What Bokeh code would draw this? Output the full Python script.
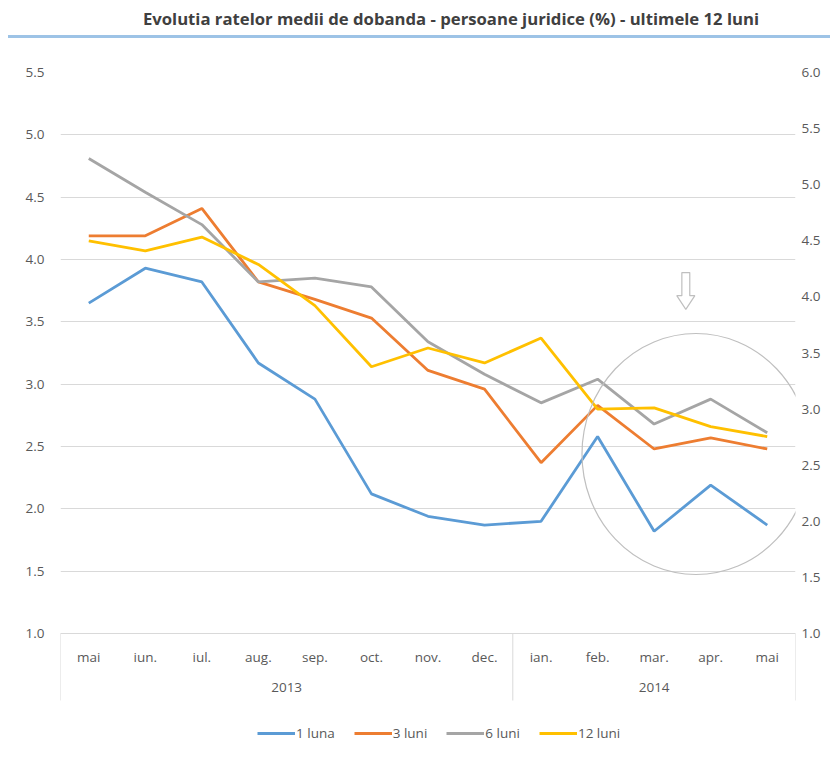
from bokeh.plotting import figure
from bokeh.models import (FactorRange, Range1d, LinearAxis, Legend, LegendItem, Div,
                          FixedTicker, NumeralTickFormatter)
from bokeh.layouts import column
from bokeh.embed import file_html
from bokeh.resources import INLINE

title_text = "Evolutia ratelor medii de dobanda - persoane juridice (%) - ultimele 12 luni"
years = ["2013"] * 8 + ["2014"] * 5
months = ["mai", "iun.", "iul.", "aug.", "sep.", "oct.", "nov.", "dec.",
          "ian.", "feb.", "mar.", "apr.", "mai"]
luna_1 = [3.65, 3.93, 3.82, 3.17, 2.88, 2.12, 1.94, 1.87, 1.90, 2.58, 1.82, 2.19, 1.87]
luni_3 = [4.19, 4.19, 4.41, 3.82, 3.68, 3.53, 3.11, 2.96, 2.37, 2.83, 2.48, 2.57, 2.48]
luni_6 = [4.81, 4.54, 4.28, 3.82, 3.85, 3.78, 3.34, 3.08, 2.85, 3.04, 2.68, 2.88, 2.61]
luni_12 = [4.15, 4.07, 4.18, 3.96, 3.63, 3.14, 3.29, 3.17, 3.37, 2.80, 2.81, 2.66, 2.58]
left_ticks = [1.0, 1.5, 2.0, 2.5, 3.0, 3.5, 4.0, 4.5, 5.0, 5.5]
right_ticks = [1.0, 1.5, 2.0, 2.5, 3.0, 3.5, 4.0, 4.5, 5.0, 5.5, 6.0]
series_names = ["1 luna", "3 luni", "6 luni", "12 luni"]
series_colors = ["#5b9bd5", "#ed7d31", "#a5a5a5", "#ffc000"]

FONT = "Open Sans"
LBL = "13.5px"
factors = list(zip(years, months))

# ---- title strip with blue rule ----
title_div = Div(
    text=('<div style="font-family:\'Open Sans\';font-weight:bold;font-size:16.7px;'
          'color:#404040;text-align:center;line-height:38px;height:35px;'
          'border-bottom:3px solid #9dc3e6;margin-left:8px;'
          'padding-left:64px;box-sizing:content-box;width:758px;">'
          + title_text + '</div>'),
    width=830, height=39, margin=(0, 0, 0, 0))

# ---- main chart (frame extended below the 1.0 line to hold the legend) ----
FRAME_PLOT = 561          # pixel height of the 1.0 .. 5.5 area
EXTRA = 130               # pixels below the 1.0 line kept inside the frame
y0_left = 1.0 - EXTRA * 4.5 / FRAME_PLOT
y0_right = 1.0 - EXTRA * 5.0 / FRAME_PLOT

p = figure(x_range=FactorRange(*factors, factor_padding=0, group_padding=0, range_padding=0),
           y_range=Range1d(y0_left, 5.5), frame_width=735, frame_height=FRAME_PLOT + EXTRA,
           min_border_left=60, min_border_right=35, min_border_top=33, min_border_bottom=0,
           toolbar_location=None, output_backend="svg", margin=(0, 0, 0, 0))
p.extra_y_ranges = {"right": Range1d(y0_right, 6.0)}
p.outline_line_color = None
p.xgrid.visible = False
p.ygrid.grid_line_color = "#d9d9d9"
p.ygrid.ticker = FixedTicker(ticks=left_ticks)

yl = p.yaxis[0]
yl.ticker = FixedTicker(ticks=left_ticks)
yl.formatter = NumeralTickFormatter(format="0.0")
yr = LinearAxis(y_range_name="right", ticker=FixedTicker(ticks=right_ticks),
                formatter=NumeralTickFormatter(format="0.0"))
p.add_layout(yr, "right")
for ax in (yl, yr):
    ax.axis_line_color = None
    ax.major_tick_line_color = None
    ax.minor_tick_line_color = None
    ax.major_tick_out = 0
    ax.major_label_text_font = FONT
    ax.major_label_text_font_size = LBL
    ax.major_label_text_color = "#595959"
yl.major_label_standoff = 16
yr.major_label_standoff = 6

xa = p.xaxis[0]
xa.fixed_location = 1.0
xa.axis_line_color = "#d9d9d9"
xa.major_tick_line_color = None
xa.major_tick_out = 0
xa.major_label_text_font = FONT
xa.major_label_text_font_size = LBL
xa.major_label_text_color = "#595959"
xa.group_text_font = FONT
xa.group_text_font_size = LBL
xa.group_text_color = "#595959"
xa.group_text_font_style = "normal"
xa.separator_line_color = None
xa.major_label_standoff = 14

# category-axis box lines (left edge, year break, right edge)
box_x = [(years[0], months[0], -0.5), (years[8], months[8], -0.5), (years[-1], months[-1], 0.5)]
box_bottom = 1.0 - 67 * 4.5 / FRAME_PLOT
p.segment(x0=box_x, y0=[1.0] * 3, x1=box_x, y1=[box_bottom] * 3,
          line_color="#d9d9d9", line_width=1)

items = []
for name, vals, col in zip(series_names, [luna_1, luni_3, luni_6, luni_12], series_colors):
    r = p.line(x=factors, y=vals, line_color=col, line_width=2.8)
    items.append(LegendItem(label=name, renderers=[r]))

# highlight circle and arrow (positions relative to the "apr." category)
apr = ("2014", "apr.")
p.ellipse(x=[(*apr, -0.26)], y=[2.44], width=228, height=241, width_units="screen",
          height_units="screen", fill_color=None, line_color="#bfbfbf", line_width=1.2)
dx = [-0.07, 0.07, 0.07, 0.16, 0.0, -0.16, -0.07]
p.patch(x=[(*apr, -0.44 + d) for d in dx],
        y=[3.895, 3.895, 3.71, 3.71, 3.60, 3.71, 3.71],
        fill_color="white", line_color="#bfbfbf", line_width=1.2)

legend = Legend(items=items, orientation="horizontal", location=(197, 20),
                label_text_font=FONT, label_text_font_size=LBL, label_text_color="#595959",
                border_line_color=None, background_fill_alpha=0, glyph_width=38,
                spacing=19, label_standoff=1, margin=0, padding=4)
p.add_layout(legend, "center")

layout = column(title_div, p, spacing=0)
open("out.html", "w").write(file_html(layout, INLINE))
